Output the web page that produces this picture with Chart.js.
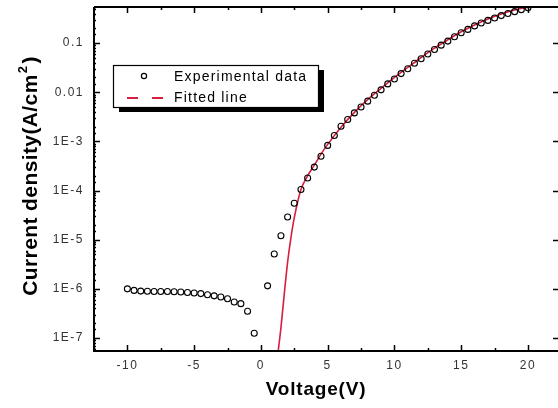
<!DOCTYPE html>
<html><head><meta charset="utf-8">
<script src="https://cdn.jsdelivr.net/npm/chart.js@4/dist/chart.umd.min.js"></script>
<style>html,body{margin:0;padding:0;background:#fff}#wrap{width:558px;height:408px;position:relative}</style>
</head><body><div id="wrap"><canvas id="c" width="558" height="408"></canvas></div>
<script>
// ---- data ----
const expVoltage = [-10,-9.5,-9,-8.5,-8,-7.5,-7,-6.5,-6,-5.5,-5,-4.5,-4,-3.5,-3,-2.5,-2,-1.5,-1,-0.5,
  0.5,1,1.5,2,2.5,3,3.5,4,4.5,5,5.5,6,6.5,7,7.5,8,8.5,9,9.5,10,10.5,11,11.5,12,12.5,13,13.5,14,14.5,15,15.5,16,16.5,17,17.5,18,18.5,19,19.5,20];
const expCurrent = [1.0e-6,9.3e-7,9.0e-7,8.9e-7,8.8e-7,8.8e-7,8.8e-7,8.7e-7,8.6e-7,8.4e-7,8.2e-7,8.0e-7,7.6e-7,7.2e-7,6.8e-7,6.3e-7,5.4e-7,5.0e-7,3.5e-7,1.25e-7,
  1.15e-6,5.1e-6,1.2e-5,2.9e-5,5.5e-5,1.05e-4,1.8e-4,3.0e-4,5.0e-4,8.3e-4,1.32e-3,2.04e-3,2.8e-3,3.8e-3,5.0e-3,6.6e-3,8.7e-3,1.12e-2,1.48e-2,1.86e-2,2.4e-2,3.0e-2,3.9e-2,4.8e-2,6.0e-2,7.4e-2,9.1e-2,0.11,0.135,0.162,0.19,0.224,0.257,0.29,0.324,0.363,0.40,0.437,0.48,0.525];
const fitVoltage = [1.28,1.5,1.75,2,2.25,2.5,3,3.5,4,4.5,5,6,7,8,9,10,11,12,13,14,15,16,17,18,19,20];
const fitCurrent = [5.0e-8,1.6e-7,7.9e-7,3.5e-6,1.1e-5,2.8e-5,1.05e-4,2.0e-4,3.3e-4,5.5e-4,8.7e-4,1.95e-3,3.9e-3,7.1e-3,1.2e-2,2.0e-2,3.2e-2,5.1e-2,7.9e-2,0.117,0.17,0.234,0.31,0.39,0.47,0.54];
const yTickValues = [0.1,0.01,1e-3,1e-4,1e-5,1e-6,1e-7];
const yTickText = ['0.1','0.01','1E-3','1E-4','1E-5','1E-6','1E-7'];
const seriesNames = ['Experimental data','Fitted line'];
const xTitle = 'Voltage(V)';
const yTitle = 'Current density(A/cm';

const FIT_COLOR = '#d81e3c';

const decoPlugin = {
  id: 'deco',
  beforeDraw(chart) {
    chart.ctx.letterSpacing = '1.5px';
  },
  afterDatasetsDraw(chart) {
    const {ctx, chartArea: a, scales: {x, y}} = chart;
    ctx.save();
    ctx.strokeStyle = '#000';
    ctx.lineWidth = 2;
    ctx.beginPath();
    ctx.moveTo(a.left, a.top); ctx.lineTo(a.left, a.bottom); ctx.lineTo(a.right, a.bottom);
    ctx.moveTo(a.left, a.top); ctx.lineTo(a.right, a.top);
    ctx.stroke();
    ctx.lineWidth = 1.5;
    ctx.beginPath();
    x.ticks.forEach(t => {
      const px = Math.round(x.getPixelForValue(t.value)) + 0.5;
      const major = Math.abs(t.value % 5) < 1e-9;
      const L = major ? 6 : 3;
      ctx.moveTo(px, a.bottom); ctx.lineTo(px, a.bottom - L);
      ctx.moveTo(px, a.top); ctx.lineTo(px, a.top + L);
    });
    y.ticks.forEach(t => {
      const lg = Math.log10(t.value);
      const major = Math.abs(lg - Math.round(lg)) < 1e-6;
      const py = Math.round(y.getPixelForValue(t.value)) + 0.5;
      if (py < a.top + 1 || py > a.bottom - 1) return;
      ctx.moveTo(a.left, py); ctx.lineTo(a.left + (major ? 6 : 2), py);
      if (major) { ctx.moveTo(a.right, py); ctx.lineTo(a.right - 5, py); }
    });
    ctx.stroke();
    ctx.restore();
  },
  afterDraw(chart) {
    const ctx = chart.ctx;
    ctx.save();
    ctx.fillStyle = '#000';
    // x title
    ctx.font = 'bold 19px "Liberation Sans", Arial, sans-serif';
    ctx.letterSpacing = '0.8px';
    ctx.textAlign = 'center';
    ctx.textBaseline = 'middle';
    ctx.fillText(xTitle, 316, 390);
    // y title
    ctx.save();
    ctx.translate(31, 176);
    ctx.rotate(-Math.PI / 2);
    ctx.letterSpacing = '0.4px';
    ctx.font = 'bold 21px "Liberation Sans", Arial, sans-serif';
    const w1 = ctx.measureText(yTitle).width;
    ctx.font = 'bold 13px "Liberation Sans", Arial, sans-serif';
    const w2 = ctx.measureText('2').width;
    ctx.font = 'bold 21px "Liberation Sans", Arial, sans-serif';
    const w3 = ctx.measureText(')').width;
    let sx = -(w1 + w2 + w3 + 3) / 2;
    ctx.textAlign = 'left';
    ctx.fillText(yTitle, sx, 0);
    ctx.font = 'bold 13px "Liberation Sans", Arial, sans-serif';
    ctx.fillText('2', sx + w1 + 1, -8);
    ctx.font = 'bold 21px "Liberation Sans", Arial, sans-serif';
    ctx.fillText(')', sx + w1 + w2 + 3, 0);
    ctx.restore();
    // legend box with shadow
    const bx = 113, by = 65, bw = 205, bh = 42;
    ctx.fillStyle = '#000';
    ctx.fillRect(bx + 6, by + 5, bw, bh);
    ctx.fillStyle = '#fff';
    ctx.fillRect(bx, by, bw, bh);
    ctx.strokeStyle = '#000';
    ctx.lineWidth = 1.2;
    ctx.strokeRect(bx + 0.5, by + 0.5, bw, bh);
    ctx.beginPath();
    ctx.arc(144, 76, 2.6, 0, Math.PI * 2);
    ctx.lineWidth = 1.2;
    ctx.stroke();
    ctx.strokeStyle = FIT_COLOR;
    ctx.lineWidth = 2;
    ctx.setLineDash([11, 14]);
    ctx.beginPath();
    ctx.moveTo(127, 98); ctx.lineTo(164, 98);
    ctx.stroke();
    ctx.setLineDash([]);
    ctx.fillStyle = '#000';
    ctx.font = '14px "Liberation Sans", Arial, sans-serif';
    ctx.letterSpacing = '1.2px';
    ctx.textAlign = 'left';
    ctx.textBaseline = 'middle';
    ctx.fillText(seriesNames[0], 174, 77);
    ctx.fillText(seriesNames[1], 174, 98);
    ctx.restore();
    ctx.letterSpacing = '0px';
  }
};

new Chart(document.getElementById('c'), {
  type: 'scatter',
  data: {
    datasets: [
      {
        label: seriesNames[1],
        data: fitVoltage.map((v, i) => ({x: v, y: fitCurrent[i]})),
        showLine: true,
        borderColor: FIT_COLOR,
        borderWidth: 1.6,
        pointRadius: 0,
        cubicInterpolationMode: 'monotone',
        order: 2
      },
      {
        label: seriesNames[0],
        data: expVoltage.map((v, i) => ({x: v, y: expCurrent[i]})),
        showLine: false,
        pointStyle: 'circle',
        pointRadius: 3,
        borderWidth: 1.1,
        borderColor: '#000',
        backgroundColor: 'rgba(0,0,0,0)',
        order: 1
      }
    ]
  },
  options: {
    responsive: false,
    animation: false,
    devicePixelRatio: 1,
    layout: {autoPadding: false, padding: {top: 7, right: 0, left: 0, bottom: 0}},
    plugins: {legend: {display: false}, tooltip: {enabled: false}},
    scales: {
      x: {
        type: 'linear',
        min: -12.5, max: 22.25,
        grid: {display: false, drawTicks: false},
        border: {display: false},
        afterFit: s => { s.height = 57; s.paddingLeft = 0; s.paddingRight = 0; },
        ticks: {
          stepSize: 2.5,
          includeBounds: false,
          autoSkip: false,
          maxRotation: 0,
          padding: 7,
          color: '#333',
          font: {family: '"Liberation Sans", Arial, sans-serif', size: 12},
          callback: v => (Math.abs(v % 5) < 1e-9 ? String(v) : '')
        }
      },
      y: {
        type: 'logarithmic',
        min: Math.pow(10, -7.265), max: Math.pow(10, -0.265),
        grid: {display: false, drawTicks: false},
        border: {display: false},
        afterFit: s => { s.width = 94; s.paddingTop = 0; s.paddingBottom = 0; },
        ticks: {
          autoSkip: false,
          padding: 10,
          color: '#333',
          font: {family: '"Liberation Sans", Arial, sans-serif', size: 12},
          callback: v => {
            const i = yTickValues.findIndex(t => Math.abs(Math.log10(t) - Math.log10(v)) < 1e-6);
            return i >= 0 ? yTickText[i] : '';
          }
        }
      }
    }
  },
  plugins: [decoPlugin]
});
</script></body></html>
